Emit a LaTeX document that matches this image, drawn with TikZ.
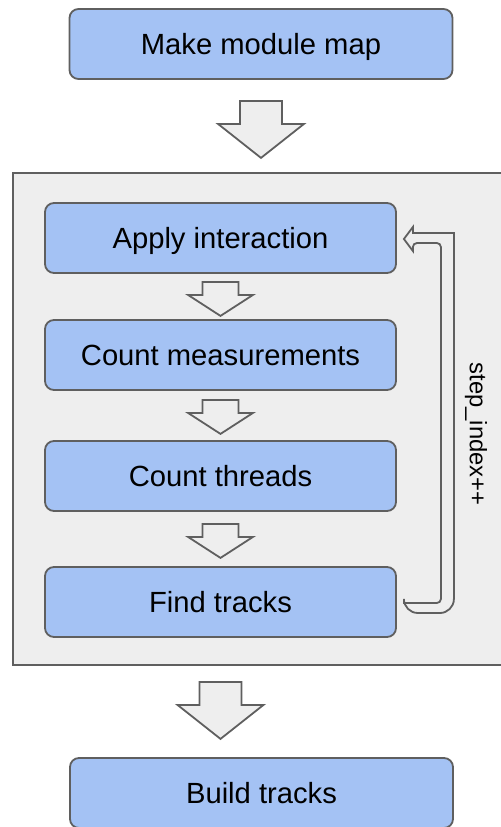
\documentclass[tikz,border=0pt]{standalone}
\usepackage{fontspec}
\setmainfont{Liberation Sans}
\usepackage{xcolor}
\definecolor{boxblue}{RGB}{164,194,244}
\definecolor{panel}{RGB}{238,238,238}
\definecolor{edge}{RGB}{95,95,95}
\usepackage{tikz}
\usetikzlibrary{positioning, calc}

\tikzset{
    stagebox/.style={draw=edge, fill=boxblue, line width=0.9pt, rounded corners=4.5pt,
        minimum width=175.5pt, minimum height=35pt, inner sep=0pt,
        text height=10.5pt, text depth=0pt,
        font=\fontsize{14.6pt}{17pt}\selectfont},
    outerbox/.style={stagebox, minimum width=191.5pt},
    panelbox/.style={draw=edge, fill=panel, line width=0.9pt},
    blockarrow/.style={draw=edge, fill=panel, line width=0.9pt, line join=miter},
    loopshape/.style={draw=edge, fill=panel, line width=0.9pt},
    steplabel/.style={font=\fontsize{11.9pt}{14pt}\selectfont, inner sep=0pt}
}

\newcommand{\blockarrow}[5]{%
    \draw[blockarrow] ($(#1)+(-#2,0)$) -- ++(2*#2,0) -- ++(0,#4) -- ++(#3-#2,0)
        -- ++(-#3,#5-#4) -- ++(-#3,-#5+#4) -- ++(#3-#2,0) -- cycle;}

\begin{document}
\begin{tikzpicture}[x=0.5pt, y=-0.5pt]
    \useasboundingbox (0,0) rectangle (501,827);
    \clip (0,0) rectangle (501,827);

    \draw[panelbox] (13,173) rectangle (520,665);

    \node[outerbox] (map) at (261,44) {Make module map};
    \node[stagebox] (apply) at (220.5,238) {Apply interaction};
    \node[stagebox] (count) at (220.5,355) {Count measurements};
    \node[stagebox] (threads) at (220.5,476) {Count threads};
    \node[stagebox] (find) at (220.5,602) {Find tracks};
    \node[outerbox] (build) at (261.5,793) {Build tracks};

    \coordinate (a1) at ($(map.south)+(0,21)$);
    \coordinate (s1) at ($(apply.south)+(0,8)$);
    \coordinate (s2) at ($(count.south)+(0,9)$);
    \coordinate (s3) at ($(threads.south)+(0,12)$);
    \coordinate (a2) at ($(find.south)+(0,44)$);

    \blockarrow{a1}{21}{43}{23}{57}
    \blockarrow{s1}{18}{32.5}{13}{34}
    \blockarrow{s2}{18}{32.5}{13}{34}
    \blockarrow{s3}{18}{32.5}{13}{34}
    \blockarrow{a2}{21}{43}{23}{57}

    \draw[loopshape] ($(find.east)+(7,1)$) [rounded corners=2pt]
        -- ($(find.east)+(44,1)$) -- ($(apply.east)+(44,5)$)
        -- ($(apply.east)+(16,5)$) [sharp corners]
        -- ($(apply.east)+(16,13)$) -- ($(apply.east)+(7,1)$)
        -- ($(apply.east)+(16,-11)$) -- ($(apply.east)+(16,-5)$)
        -- ($(apply.east)+(57,-5)$) [rounded corners=7pt]
        -- ($(find.east)+(57,11)$) -- ($(find.east)+(7,11)$) [sharp corners]
        -- cycle;

    \node[steplabel, rotate=-90] (idx) at (476,434) {step\_index++};
\end{tikzpicture}
\end{document}
